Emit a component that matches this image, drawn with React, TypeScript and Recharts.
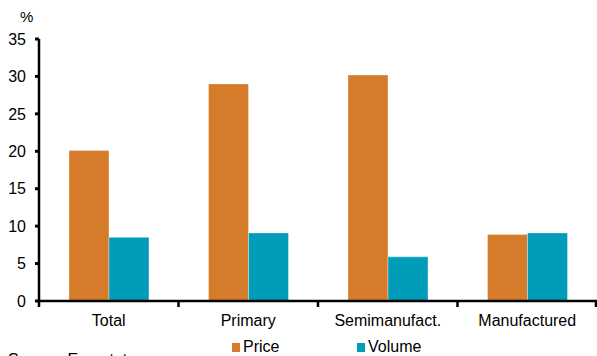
import React from 'react';
import { BarChart, Bar, XAxis, YAxis, Legend } from 'recharts';

const categories = ['Total', 'Primary', 'Semimanufact.', 'Manufactured'];
const priceValues = [20.1, 29.0, 30.2, 8.9];
const volumeValues = [8.5, 9.1, 5.9, 9.1];
const yTicks = [0, 5, 10, 15, 20, 25, 30, 35];

const PRICE_COLOR = '#D67B29';
const VOLUME_COLOR = '#009CBA';
const FONT = '"Liberation Sans", Arial, sans-serif';

const data = categories.map((name, i) => ({
  name,
  price: priceValues[i],
  volume: volumeValues[i],
}));

const TICK_SIZE = 6;
const TICK_MARGIN = 8;

// category labels, with tick marks on the band edges instead of the centres
function CategoryTick(props: any) {
  const { x, y, payload, index, visibleTicksCount } = props;
  const axisY = y - TICK_SIZE - TICK_MARGIN;
  const half = payload.offset ?? 0;
  const isLast = index === visibleTicksCount - 1;
  return (
    <g>
      <line x1={x - half} x2={x - half} y1={axisY} y2={axisY + TICK_SIZE} stroke="#000" strokeWidth={2.5} />
      {isLast && (
        <line x1={x + half - 1} x2={x + half - 1} y1={axisY} y2={axisY + TICK_SIZE} stroke="#000" strokeWidth={2.5} />
      )}
      <text x={x} y={y} dy={11} textAnchor="middle" fontSize={16} fontFamily={FONT} fill="#000">
        {payload.value}
      </text>
    </g>
  );
}

function LegendBox() {
  const items = [
    { label: 'Price', color: PRICE_COLOR, left: 232 },
    { label: 'Volume', color: VOLUME_COLOR, left: 357 },
  ];
  return (
    <div style={{ position: 'relative', width: 597, height: 27 }}>
      {items.map((it) => (
        <div
          key={it.label}
          style={{
            position: 'absolute',
            left: it.left,
            top: 9,
            display: 'flex',
            alignItems: 'center',
            fontFamily: FONT,
            fontSize: 16,
            color: '#000',
            lineHeight: '18px',
          }}
        >
          <span style={{ display: 'inline-block', width: 8, height: 9, background: it.color, marginRight: 3 }} />
          {it.label}
        </div>
      ))}
    </div>
  );
}

export default function App() {
  return (
    <div style={{ position: 'absolute', left: 0, top: 0, width: 597, height: 356, background: '#fff', overflow: 'hidden' }}>
      <div style={{ position: 'absolute', left: 20, top: 8, fontFamily: FONT, fontSize: 15, lineHeight: '17px' }}>%</div>
      <BarChart
        width={597}
        height={356}
        data={data}
        margin={{ top: 39, right: 0, bottom: 0, left: 0 }}
        barCategoryGap="21.5%"
        barGap={0}
      >
        <XAxis
          dataKey="name"
          height={28}
          axisLine={{ stroke: '#000', strokeWidth: 2.5 }}
          tickLine={false}
          tickSize={TICK_SIZE}
          tickMargin={TICK_MARGIN}
          tick={<CategoryTick />}
          interval={0}
        />
        <YAxis
          width={39}
          domain={[0, 35]}
          ticks={yTicks}
          interval={0}
          axisLine={{ stroke: '#000', strokeWidth: 2.5 }}
          tickLine={{ stroke: '#000', strokeWidth: 3 }}
          tickSize={4}
          tickMargin={9}
          tick={{ fontSize: 16, fontFamily: FONT, fill: '#000' }}
        />
        <Legend verticalAlign="bottom" height={27} content={<LegendBox />} wrapperStyle={{ left: 0, width: 597 }} />
        <Bar dataKey="price" name="Price" fill={PRICE_COLOR} stroke="#ffffff" strokeOpacity={0.35} strokeWidth={1} isAnimationActive={false} />
        <Bar dataKey="volume" name="Volume" fill={VOLUME_COLOR} stroke="#ffffff" strokeOpacity={0.35} strokeWidth={1} isAnimationActive={false} />
      </BarChart>
      <div style={{ position: 'absolute', left: 8, top: 351, fontFamily: FONT, fontSize: 16, lineHeight: '18px', whiteSpace: 'nowrap' }}>
        Source: Eurostat
      </div>
    </div>
  );
}
